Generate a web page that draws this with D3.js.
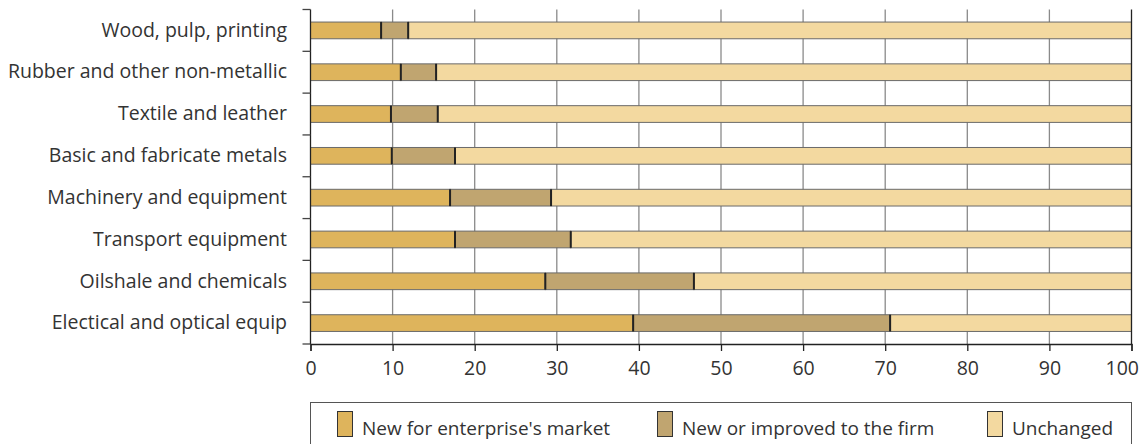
<!DOCTYPE html>
<html>
<head>
<meta charset="utf-8">
<script src="https://cdn.jsdelivr.net/npm/d3@7"></script>
<style>
  html, body { margin: 0; padding: 0; background: #fff; }
  svg { display: block; font-family: "Open Sans", "Noto Sans", sans-serif; }
</style>
</head>
<body>
<svg id="chart" width="1144" height="444"></svg>
<script>
// Share of product turnover by innovation type, per industry (%)
const categories = [
  "Wood, pulp, printing",
  "Rubber and other non-metallic",
  "Textile and leather",
  "Basic and fabricate metals",
  "Machinery and equipment",
  "Transport equipment",
  "Oilshale and chemicals",
  "Electical and optical equip"
];
const seriesNames = ["New for enterprise's market", "New or improved to the firm", "Unchanged"];
const newForMarket = [8.6, 11.0, 9.8, 9.9, 17.0, 17.6, 28.6, 39.3];
const newToFirm    = [3.3, 4.3, 5.7, 7.7, 12.3, 14.1, 18.1, 31.3];
const unchanged    = [88.1, 84.7, 84.5, 82.4, 70.7, 68.3, 53.3, 29.4];
const xTicks = [0, 10, 20, 30, 40, 50, 60, 70, 80, 90, 100];
const colors = ["#DEB45C", "#C0A570", "#F3D9A0"];

const rows = categories.map((c, i) => ({
  cat: c, s0: newForMarket[i], s1: newToFirm[i], s2: unchanged[i]
}));
const stacked = d3.stack().keys(["s0", "s1", "s2"])(rows);

const svg = d3.select("#chart");
const plotLeft = 310.5, plotRight = 1131.5, plotTop = 9.5, plotBottom = 344;
const fontSize = 19.5;
const textColor = "#333";

const x = d3.scaleLinear().domain([0, 100]).range([plotLeft, plotRight]);
const y = d3.scaleBand().domain(categories).range([plotTop, plotBottom])
  .paddingInner(0.6).paddingOuter(0.3);
const step = y.step();
const boundaries = d3.range(categories.length + 1).map(k => plotTop + k * step);

// vertical gridlines
svg.append("g").selectAll("line").data(xTicks.slice(1, -1)).join("line")
  .attr("x1", d => x(d)).attr("x2", d => x(d))
  .attr("y1", plotTop).attr("y2", plotBottom)
  .attr("stroke", "#8a8a8a").attr("stroke-width", 1.3);

// stacked bars
const layers = svg.append("g").selectAll("g").data(stacked).join("g")
  .attr("fill", (d, i) => colors[i]);
layers.selectAll("rect").data(d => d).join("rect")
  .attr("x", d => x(d[0]))
  .attr("width", d => x(d[1]) - x(d[0]))
  .attr("y", d => y(d.data.cat))
  .attr("height", y.bandwidth())
  .attr("stroke", "#6a6a6a").attr("stroke-width", 1);

// segment separators
const seps = [];
rows.forEach(r => { seps.push({ cat: r.cat, v: r.s0 }); seps.push({ cat: r.cat, v: r.s0 + r.s1 }); });
svg.append("g").selectAll("line").data(seps).join("line")
  .attr("x1", d => x(d.v)).attr("x2", d => x(d.v))
  .attr("y1", d => y(d.cat)).attr("y2", d => y(d.cat) + y.bandwidth())
  .attr("stroke", "#222").attr("stroke-width", 2);

// frame: left axis, right edge
svg.append("line").attr("x1", plotLeft).attr("x2", plotLeft).attr("y1", plotTop).attr("y2", plotBottom)
  .attr("stroke", "#222").attr("stroke-width", 1.3);
svg.append("line").attr("x1", plotRight).attr("x2", plotRight).attr("y1", plotTop).attr("y2", plotBottom)
  .attr("stroke", "#222").attr("stroke-width", 1.3);

// left ticks at category boundaries
svg.append("g").selectAll("line").data(boundaries).join("line")
  .attr("x1", plotLeft - 8).attr("x2", plotLeft)
  .attr("y1", d => d).attr("y2", d => d)
  .attr("stroke", "#444").attr("stroke-width", 1.3);

// category labels
svg.append("g").selectAll("text").data(categories).join("text")
  .attr("x", 287).attr("y", d => y(d) + y.bandwidth() / 2)
  .attr("dy", "0.32em").attr("text-anchor", "end")
  .attr("font-size", fontSize).attr("fill", textColor).text(d => d);

// bottom axis
const xAxis = d3.axisBottom(x).tickValues(xTicks).tickSize(7).tickPadding(10).tickFormat(d3.format("d"));
const gx = svg.append("g").attr("transform", `translate(0,${plotBottom})`).call(xAxis);
gx.select(".domain").attr("stroke", "#222").attr("stroke-width", 1.3);
gx.selectAll(".tick line").attr("stroke", "#222").attr("stroke-width", 1.3);
gx.selectAll(".tick text").attr("font-size", fontSize).attr("fill", textColor)
  .attr("font-family", "\"Open Sans\", \"Noto Sans\", sans-serif");
// keep the last label inside the page edge
gx.selectAll(".tick text").filter(d => d === 100).attr("text-anchor", "end").attr("x", 7);

// legend
const legend = svg.append("g");
legend.append("rect").attr("x", 310.5).attr("y", 402.5).attr("width", 821).attr("height", 60)
  .attr("fill", "#fff").attr("stroke", "#555").attr("stroke-width", 1);
const legendX = [337, 657, 987];
seriesNames.forEach((name, i) => {
  legend.append("rect").attr("x", legendX[i] + 0.5).attr("y", 411.5).attr("width", 15).attr("height", 25)
    .attr("fill", colors[i]).attr("stroke", "#333").attr("stroke-width", 1);
  legend.append("text").attr("x", legendX[i] + 25).attr("y", 435)
    .attr("font-size", 19).attr("fill", textColor).text(name);
});
</script>
</body>
</html>
